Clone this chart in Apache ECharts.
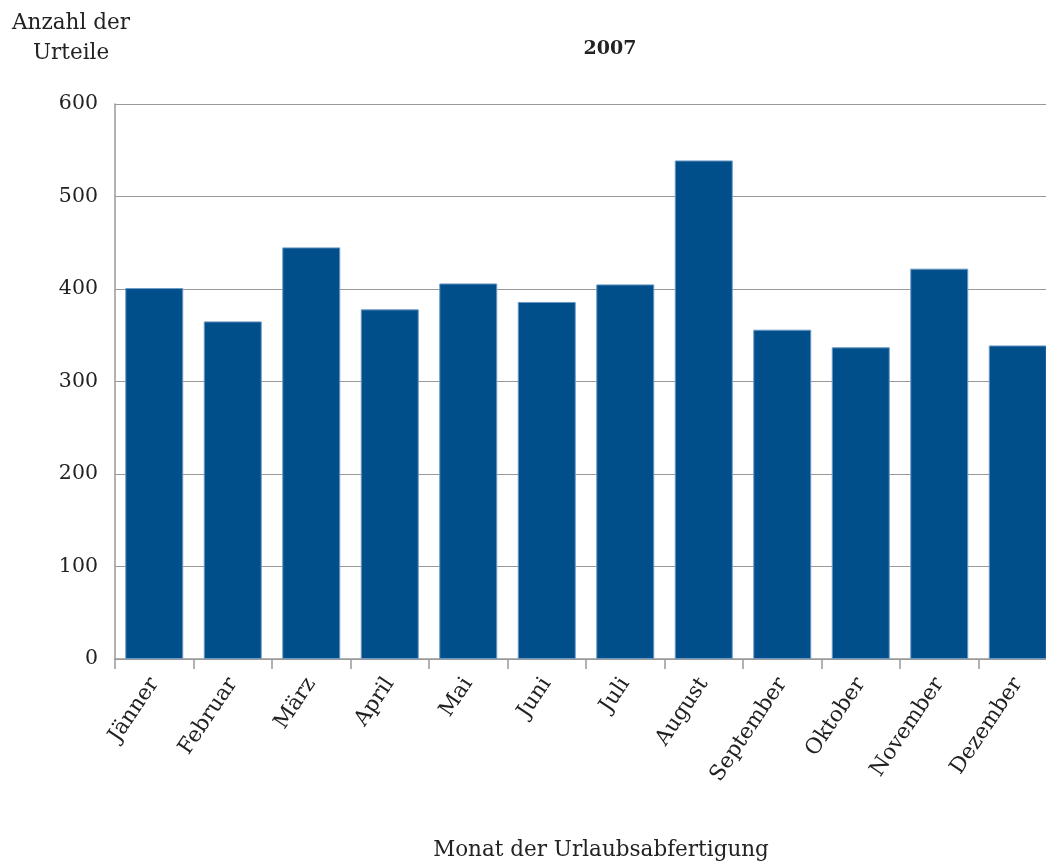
<!DOCTYPE html>
<html>
<head>
<meta charset="utf-8">
<script src="https://cdn.jsdelivr.net/npm/echarts@6/dist/echarts.min.js"></script>
<style>
  html, body { margin: 0; padding: 0; background: #fff; }
  #chart { width: 1046px; height: 863px; }
</style>
</head>
<body>
<div id="chart"></div>
<script>
// Judgments per month of holiday dispatch, 2007
const months = ['Jänner', 'Februar', 'März', 'April', 'Mai', 'Juni', 'Juli', 'August', 'September', 'Oktober', 'November', 'Dezember'];
const judgments = [401, 365, 445, 378, 406, 386, 405, 539, 356, 337, 422, 339];
const yTicks = [0, 100, 200, 300, 400, 500, 600];

const FONT = 'DejaVu Serif';
const TEXT = '#222';
const chart = echarts.init(document.getElementById('chart'));

chart.setOption({
  animation: false,
  backgroundColor: '#ffffff',
  textStyle: { fontFamily: FONT },
  graphic: [
    {
      type: 'text',
      style: {
        text: '2007', x: 610, y: 49,
        fontFamily: FONT, fontSize: 19, fontWeight: 'bold',
        align: 'center', verticalAlign: 'middle', fill: TEXT
      }
    },
    {
      type: 'text',
      style: {
        text: 'Anzahl der\nUrteile', x: 71, y: 8,
        fontFamily: FONT, fontSize: 21.5, lineHeight: 30,
        align: 'center', verticalAlign: 'top', fill: TEXT
      }
    },
    {
      type: 'text',
      style: {
        text: 'Monat der Urlaubsabfertigung', x: 601, y: 850,
        fontFamily: FONT, fontSize: 21.5,
        align: 'center', verticalAlign: 'middle', fill: TEXT
      }
    }
  ],
  grid: { left: 115, top: 104, width: 942, height: 555, containLabel: false, outerBoundsMode: 'none' },
  xAxis: {
    type: 'category',
    data: months,
    axisLine: { show: true, lineStyle: { color: '#999', width: 1.5 } },
    axisTick: { show: true, length: 10, alignWithLabel: false, lineStyle: { color: '#999', width: 1.5 } },
    axisLabel: {
      rotate: 56,
      interval: 0,
      margin: 21,
      fontFamily: FONT,
      fontSize: 21.5,
      color: TEXT
    }
  },
  yAxis: {
    type: 'value',
    min: 0,
    max: 600,
    interval: 100,
    axisLine: { show: true, lineStyle: { color: '#999', width: 1.5 } },
    axisTick: { show: false },
    splitLine: { show: true, lineStyle: { color: '#999', width: 1.2 } },
    axisLabel: {
      margin: 17,
      fontFamily: FONT,
      fontSize: 20.5,
      color: TEXT,
      formatter: v => yTicks.includes(v) ? String(v) : ''
    }
  },
  series: [{
    type: 'bar',
    data: judgments,
    barWidth: 58,
    itemStyle: { color: '#004f8b', borderColor: '#6d9ac6', borderWidth: 1 }
  }]
});
</script>
</body>
</html>
